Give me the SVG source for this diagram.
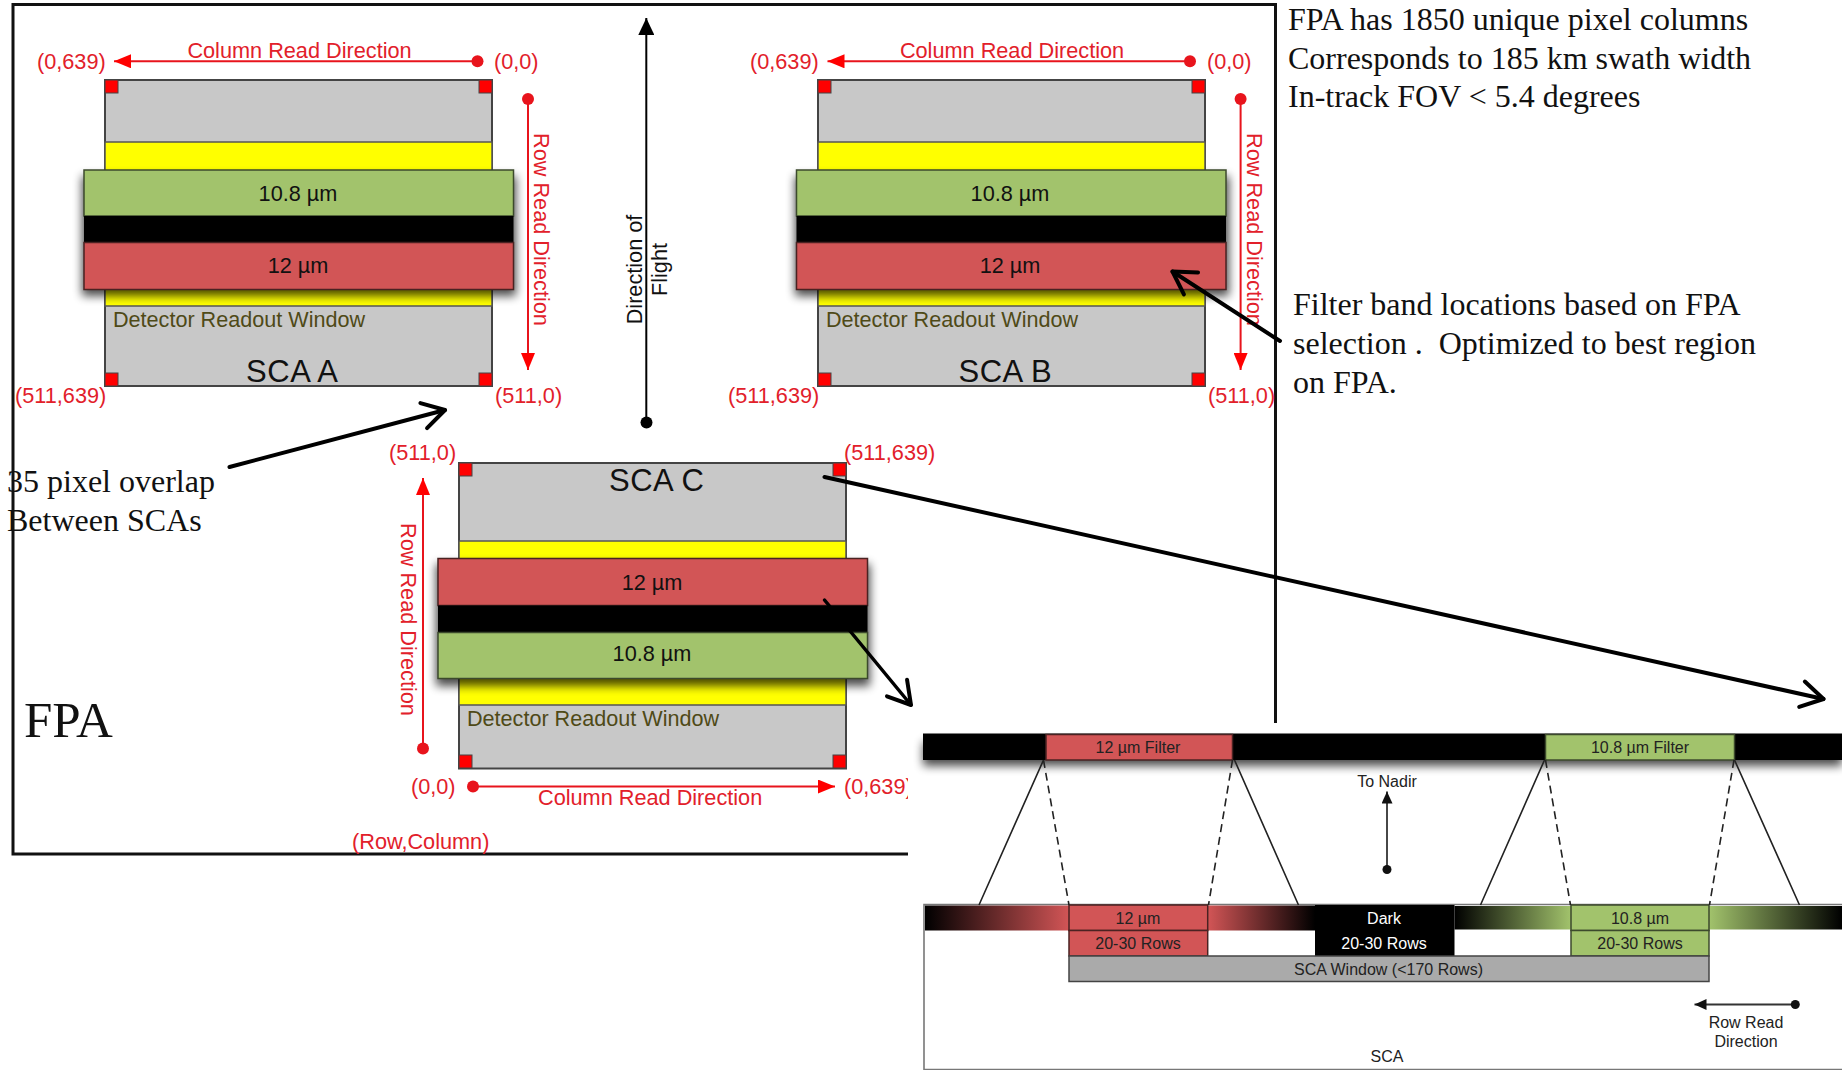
<svg xmlns="http://www.w3.org/2000/svg" width="1842" height="1070" viewBox="0 0 1842 1070">
<style>
text{font-family:"Liberation Sans",Arial,sans-serif}
.s{font-family:"Liberation Serif","Times New Roman",serif;font-size:32px;fill:#111;white-space:pre}
.r{font-size:21.7px;fill:#e2202a}
.b{font-size:21.7px;fill:#111}
.w{font-size:21.6px;fill:#4f4a17}
.t{font-size:31px;fill:#111}
.m{text-anchor:middle}
.i{font-size:16px;fill:#222}
.g{fill:#c8c8c8;stroke:#444;stroke-width:2}
.y{fill:#ffff00;stroke:#555;stroke-width:1.5}
.gr{fill:#a2c36c;stroke:#3c4a2c;stroke-width:1.5}
.rd{fill:#d25556;stroke:#4a2222;stroke-width:1.5}
.k{fill:#000}
.q{fill:#f00;stroke:#444;stroke-width:1}
.ra{stroke:#e8141c;stroke-width:2;fill:none;marker-end:url(#rh)}
.dot{fill:#e8141c}
.ba{stroke:#000;stroke-width:4;fill:none;stroke-linecap:round;marker-end:url(#oh)}
.th{stroke:#222;stroke-width:1.6;fill:none}
.da{stroke:#222;stroke-width:1.6;fill:none;stroke-dasharray:8 5}
</style>
<defs>
<filter id="sh" x="-10%" y="-40%" width="120%" height="180%"><feGaussianBlur stdDeviation="5"/></filter>
<marker id="rh" markerUnits="userSpaceOnUse" markerWidth="18" markerHeight="14" refX="17" refY="7" orient="auto"><path d="M0 0L17 7L0 14Z" fill="#f00"/></marker>
<marker id="kh" markerUnits="userSpaceOnUse" markerWidth="18" markerHeight="16" refX="17" refY="8" orient="auto"><path d="M0 0L17 8L0 16Z" fill="#000"/></marker>
<marker id="sh2" markerUnits="userSpaceOnUse" markerWidth="13" markerHeight="11" refX="12" refY="5.5" orient="auto"><path d="M0 0L12 5.5L0 11Z" fill="#111"/></marker>
<marker id="oh" markerUnits="userSpaceOnUse" markerWidth="34" markerHeight="34" refX="27" refY="17" orient="auto"><path d="M5 4L27 17L5 30" fill="none" stroke="#000" stroke-width="4" stroke-linecap="round" stroke-linejoin="round"/></marker>
<linearGradient id="k2r"><stop offset="0" stop-color="#000"/><stop offset="1" stop-color="#d25556"/></linearGradient>
<linearGradient id="r2k"><stop offset="0" stop-color="#d25556"/><stop offset="1" stop-color="#000"/></linearGradient>
<linearGradient id="k2g"><stop offset="0" stop-color="#000"/><stop offset="1" stop-color="#a2c36c"/></linearGradient>
<linearGradient id="g2k"><stop offset="0" stop-color="#a2c36c"/><stop offset="1" stop-color="#000"/></linearGradient>
</defs>
<rect width="1842" height="1070" fill="#fff"/>
<rect id="frame" x="13" y="4.5" width="1262.5" height="849.5" fill="none" stroke="#111" stroke-width="3"/>

<g id="sca-a">
<rect class="g" x="105" y="80" width="387" height="306"/>
<rect class="y" x="105" y="142" width="387" height="164"/>
<rect x="82" y="176" width="434" height="120" fill="#000" opacity=".7" filter="url(#sh)"/>
<rect class="gr" x="84" y="170" width="429.5" height="46"/>
<rect class="k" x="84" y="216" width="429.5" height="26.5"/>
<rect class="rd" x="84" y="242.5" width="429.5" height="47"/>
<rect class="q" x="105" y="80" width="13" height="13"/><rect class="q" x="479" y="80" width="13" height="13"/>
<rect class="q" x="105" y="373" width="13" height="13"/><rect class="q" x="479" y="373" width="13" height="13"/>
<text class="b m" x="298" y="201">10.8 µm</text><text class="b m" x="298" y="273">12 µm</text>
<text class="w" x="113" y="327">Detector Readout Window</text>
<text class="t" x="246" y="382" textLength="92">SCA A</text>
<text class="r m" x="299.5" y="58">Column Read Direction</text>
<text class="r" x="37" y="69">(0,639)</text><text class="r" x="494" y="69">(0,0)</text>
<text class="r" x="15" y="403">(511,639)</text><text class="r" x="495" y="403">(511,0)</text>
<text class="r" transform="translate(534 133) rotate(90)">Row Read Direction</text>
</g>

<g id="sca-b">
<rect class="g" x="818" y="80" width="387" height="306"/>
<rect class="y" x="818" y="142" width="387" height="164"/>
<rect x="795" y="176" width="434" height="120" fill="#000" opacity=".7" filter="url(#sh)"/>
<rect class="gr" x="796.5" y="170" width="429.5" height="46"/>
<rect class="k" x="796.5" y="216" width="429.5" height="26.5"/>
<rect class="rd" x="796.5" y="242.5" width="429.5" height="47"/>
<rect class="q" x="818" y="80" width="13" height="13"/><rect class="q" x="1192" y="80" width="13" height="13"/>
<rect class="q" x="818" y="373" width="13" height="13"/><rect class="q" x="1192" y="373" width="13" height="13"/>
<text class="b m" x="1010" y="201">10.8 µm</text><text class="b m" x="1010" y="273">12 µm</text>
<text class="w" x="826" y="327">Detector Readout Window</text>
<text class="t" x="958.6" y="382" textLength="93">SCA B</text>
<text class="r m" x="1012" y="58">Column Read Direction</text>
<text class="r" x="750" y="69">(0,639)</text><text class="r" x="1207" y="69">(0,0)</text>
<text class="r" x="728" y="403">(511,639)</text><text class="r" x="1208" y="403">(511,0)</text>
<text class="r" transform="translate(1247 133) rotate(90)">Row Read Direction</text>
</g>

<g id="sca-c">
<rect class="g" x="459" y="463" width="387" height="305.5"/>
<rect class="y" x="459" y="541" width="387" height="164"/>
<rect x="436" y="564" width="434" height="122" fill="#000" opacity=".7" filter="url(#sh)"/>
<rect class="rd" x="438" y="558.5" width="429.5" height="47"/>
<rect class="k" x="438" y="605.5" width="429.5" height="27"/>
<rect class="gr" x="438" y="632.5" width="429.5" height="46"/>
<rect class="q" x="459" y="463" width="13" height="13"/><rect class="q" x="833" y="463" width="13" height="13"/>
<rect class="q" x="459" y="755" width="13" height="13"/><rect class="q" x="833" y="755" width="13" height="13"/>
<text class="b m" x="652" y="589.5">12 µm</text><text class="b m" x="652" y="661">10.8 µm</text>
<text class="w" x="467" y="726">Detector Readout Window</text>
<text class="t" x="609" y="491" textLength="95">SCA C</text>
<text class="r" x="538" y="805">Column Read Direction</text>
<text class="r" x="389" y="460">(511,0)</text><text class="r" x="844" y="460">(511,639)</text>
<text class="r" x="411" y="794">(0,0)</text><text class="r" x="844" y="794">(0,639)</text>
<text class="r" x="352" y="849">(Row,Column)</text>
<text class="r" transform="translate(401 523) rotate(90)">Row Read Direction</text>
</g>

<g id="flight-label">
<text class="b m" transform="translate(642 269.5) rotate(-90)">Direction of</text>
<text class="b m" transform="translate(667 269.5) rotate(-90)">Flight</text>
</g>

<g id="notes">
<text class="s" x="1288" y="29.5">FPA has 1850 unique pixel columns</text>
<text class="s" x="1288" y="68.5">Corresponds to 185 km swath width</text>
<text class="s" x="1288" y="107">In-track FOV &lt; 5.4 degrees</text>
<text class="s" x="1293" y="315">Filter band locations based on FPA</text>
<text class="s" x="1293" y="354">selection .  Optimized to best region</text>
<text class="s" x="1293" y="392.5">on FPA.</text>
<text class="s" x="7" y="491.5">35 pixel overlap</text>
<text class="s" x="7" y="530.5">Between SCAs</text>
<text class="s" x="24" y="737" style="font-size:51px">FPA</text>
</g>

<g id="inset">
<rect x="908" y="723" width="934" height="347" fill="#fff"/>
<rect x="923" y="742" width="919" height="24" fill="#000" opacity=".7" filter="url(#sh)"/>
<rect class="k" x="923" y="733.5" width="919" height="26.5"/>
<g id="filter-12">
<rect class="rd" x="1046" y="734.5" width="186.5" height="25.5"/>
<text class="i m" x="1138" y="753">12 µm Filter</text>
</g>
<g id="filter-108">
<rect class="gr" x="1545.5" y="734.5" width="189" height="25.5"/>
<text class="i m" x="1640" y="753">10.8 µm Filter</text>
</g>
<g id="sca-detail">
<path d="M924 1070V904.5H1842M924 1069.5H1842" fill="none" stroke="#777" stroke-width="1.6"/>
<rect x="925" y="905.5" width="144" height="25" fill="url(#k2r)"/>
<rect x="1208" y="905.5" width="107" height="25" fill="url(#r2k)"/>
<rect class="k" x="1315" y="905" width="139.5" height="51"/>
<rect x="1454.5" y="906" width="116.5" height="23.5" fill="url(#k2g)"/>
<rect x="1709" y="906" width="133" height="23.5" fill="url(#g2k)"/>
<rect class="rd" x="1069" y="905" width="138.7" height="25.5"/>
<rect class="rd" x="1069" y="930.5" width="138.7" height="25.5"/>
<rect class="gr" x="1571" y="905" width="138" height="25.5"/>
<rect class="gr" x="1571" y="930.5" width="138" height="25.5"/>
<rect x="1069" y="956" width="640" height="25.5" fill="#aaa" stroke="#444" stroke-width="1.5"/>
<text class="i m" x="1138" y="923.5">12 µm</text><text class="i m" x="1138" y="948.5">20-30 Rows</text>
<text class="i m" x="1640" y="923.5">10.8 µm</text><text class="i m" x="1640" y="948.5">20-30 Rows</text>
<text class="i m" x="1384" y="923.5" style="fill:#fff">Dark</text><text class="i m" x="1384" y="948.5" style="fill:#fff">20-30 Rows</text>
<text class="i m" x="1388.5" y="974.5">SCA Window (&lt;170 Rows)</text>
<text class="i m" x="1387" y="786.5">To Nadir</text>
<text class="i m" x="1746" y="1027.5">Row Read</text><text class="i m" x="1746" y="1046.5">Direction</text>
<text class="i m" x="1387" y="1061.5">SCA</text>
</g>
</g>

<g id="connectors">
<path class="ra" d="M477 61.3H114"/><circle class="dot" cx="477.5" cy="61.3" r="6"/>
<path class="ra" d="M528 99V370"/><circle class="dot" cx="528" cy="99" r="6"/>
<path class="ra" d="M1190 61.3H827.5"/><circle class="dot" cx="1190" cy="61.3" r="6"/>
<path class="ra" d="M1240.6 99V370"/><circle class="dot" cx="1240.6" cy="99" r="6"/>
<path class="ra" d="M423 748.5V478"/><circle class="dot" cx="423" cy="748.5" r="6"/>
<path class="ra" d="M473 786.5H835"/><circle class="dot" cx="473" cy="786.5" r="6"/>
<path d="M646.3 422V18" stroke="#000" stroke-width="2" marker-end="url(#kh)"/><circle cx="646.5" cy="422.5" r="6"/>
<path class="ba" d="M229.5 467L445 410"/>
<path class="ba" d="M1280 341L1172.5 271.5"/>
<path class="ba" d="M824.5 477L1823.5 699"/>
<path class="ba" style="stroke-width:3.5" d="M824.5 600L911 705"/>
<path class="th" d="M1043.5 760L979 905M1234.5 760L1298.5 905M1544.5 760L1480.5 905M1734.5 760L1799.5 905"/>
<path class="da" d="M1043.5 760L1069 905M1232.5 760L1208.5 905M1545.5 760L1570.5 905M1734 760L1709.5 905"/>
<path d="M1387 869V791.5" stroke="#333" stroke-width="1.8" marker-end="url(#sh2)"/><circle cx="1387" cy="869.5" r="4.5" fill="#111"/>
<path d="M1795 1004.5H1694.5" stroke="#333" stroke-width="1.8" marker-end="url(#sh2)"/><circle cx="1795.3" cy="1004.5" r="4.5" fill="#111"/>
</g>
</svg>
